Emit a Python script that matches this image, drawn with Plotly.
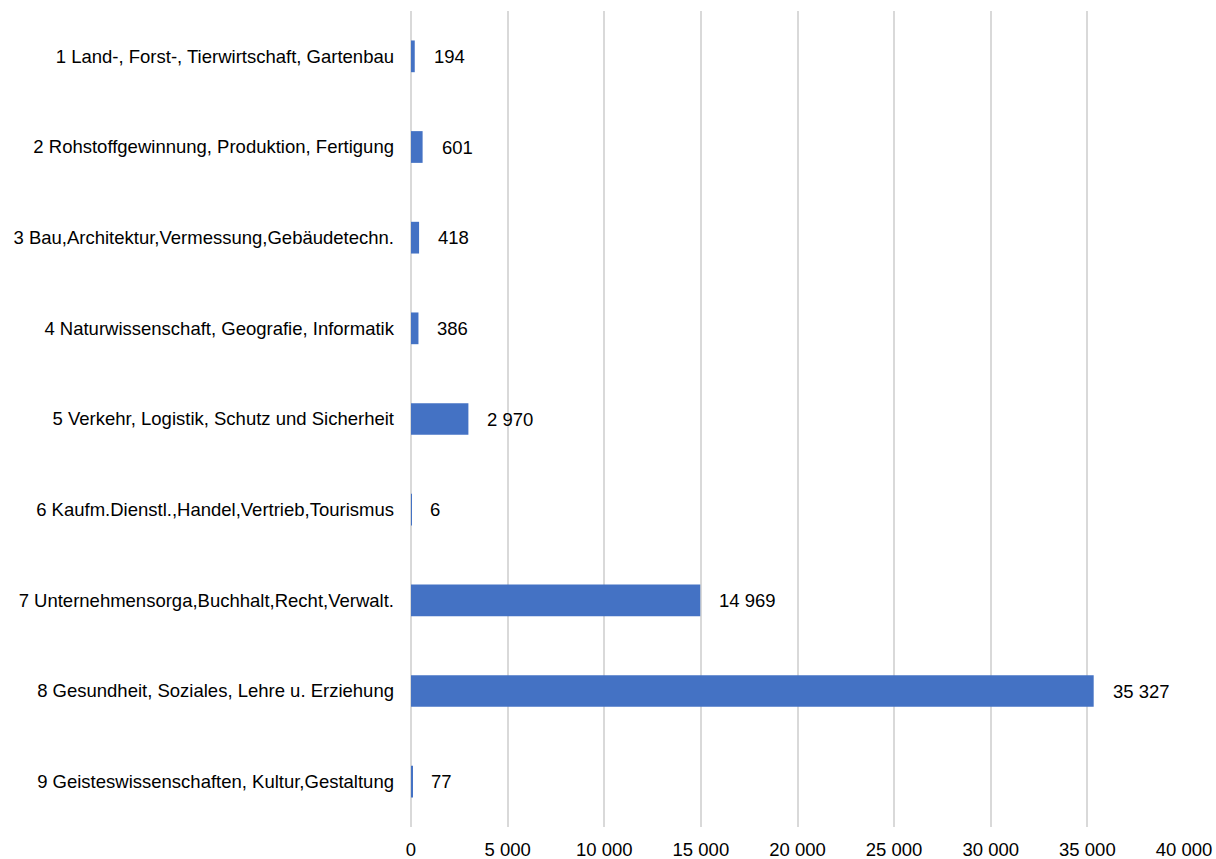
import plotly.graph_objects as go

categories = [
    "1 Land-, Forst-, Tierwirtschaft, Gartenbau",
    "2 Rohstoffgewinnung, Produktion, Fertigung",
    "3 Bau,Architektur,Vermessung,Gebäudetechn.",
    "4 Naturwissenschaft, Geografie, Informatik",
    "5 Verkehr, Logistik, Schutz und Sicherheit",
    "6 Kaufm.Dienstl.,Handel,Vertrieb,Tourismus",
    "7 Unternehmensorga,Buchhalt,Recht,Verwalt.",
    "8 Gesundheit, Soziales, Lehre u. Erziehung",
    "9 Geisteswissenschaften, Kultur,Gestaltung",
]
values = [194, 601, 418, 386, 2970, 6, 14969, 35327, 77]
tick_vals = [0, 5000, 10000, 15000, 20000, 25000, 30000, 35000, 40000]

FONT = "Liberation Sans, Arial, sans-serif"
FS = 18.5

fig = go.Figure()
fig.add_trace(go.Bar(
    y=categories, x=values, orientation="h",
    marker=dict(color="#4472C4", line=dict(width=0)),
    width=0.35,
    hoverinfo="x+y",
))

for c, v in zip(categories, values):
    fig.add_annotation(
        x=v, y=c, text=f"{v:,}".replace(",", " "),
        xanchor="left", yanchor="middle", xshift=17,
        showarrow=False, font=dict(family=FONT, size=FS, color="#000000"),
    )

fig.update_layout(
    width=1216, height=859,
    margin=dict(l=411, r=32, t=11, b=32),
    paper_bgcolor="white", plot_bgcolor="white",
    font=dict(family=FONT, size=FS, color="#000000"),
    separators=", ",
    showlegend=False,
)
fig.update_xaxes(
    range=[0, 40000], tickvals=tick_vals, tickformat=",d",
    showgrid=True, gridcolor="#d9d9d9", gridwidth=2,
    zeroline=True, zerolinecolor="#d9d9d9", zerolinewidth=2,
    showline=False, ticks="", fixedrange=True,
    ticklabelstandoff=9,
    tickfont=dict(family=FONT, size=FS, color="#000000"),
    automargin=False,
)
fig.update_yaxes(
    categoryorder="array", categoryarray=categories, autorange="reversed",
    showgrid=False, zeroline=False, showline=False, ticks="",
    ticklabelstandoff=16,
    tickfont=dict(family=FONT, size=FS, color="#000000"),
    automargin=False,
)

fig.write_html("out.html", config={"displayModeBar": False})

# remove default page margin so the figure sits at the window origin
with open("out.html", "r", encoding="utf-8") as f:
    html = f.read()
html = html.replace("<head>", "<head><style>html,body{margin:0;padding:0;overflow:hidden;}</style>", 1)
with open("out.html", "w", encoding="utf-8") as f:
    f.write(html)
